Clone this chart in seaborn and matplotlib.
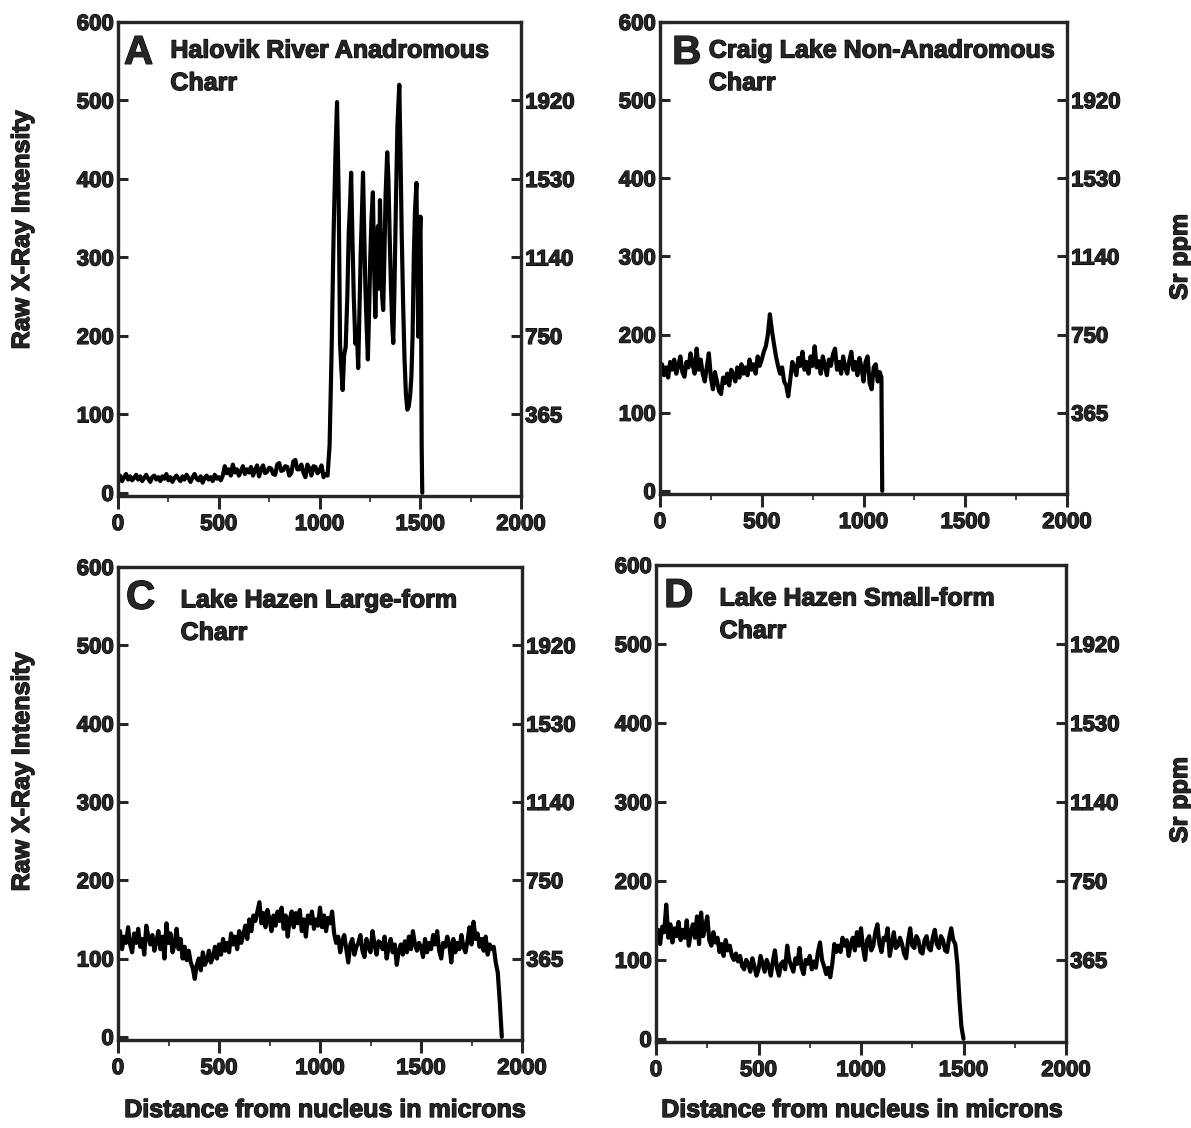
import numpy as np
import pandas as pd
import matplotlib
matplotlib.use("Agg")
import matplotlib.pyplot as plt
import matplotlib.patheffects as pe
from matplotlib.ticker import MultipleLocator
import seaborn as sns

# ---- data (distance in microns, raw x-ray intensity) ----
a_x = [0, 10, 20, 30, 40, 50, 60, 70, 80, 90, 100, 110, 120, 130, 140, 150, 160, 170, 180, 190,
       200, 210, 220, 230, 240, 250, 260, 270, 280, 290, 300, 310, 320, 330, 340, 350, 360, 370,
       380, 390, 400, 410, 420, 430, 440, 450, 460, 470, 480, 490, 500, 510, 520, 530, 540, 550,
       560, 570, 580, 590, 600, 610, 620, 630, 640, 650, 660, 670, 680, 690, 700, 710, 720, 730,
       740, 750, 760, 770, 780, 790, 800, 810, 820, 830, 840, 850, 860, 870, 880, 890, 900, 910,
       920, 930, 940, 950, 960, 970, 980, 990, 1000, 1010, 1020, 1030, 1040,
       1050, 1060, 1070, 1080, 1087, 1095, 1102, 1108, 1115, 1122, 1130, 1138, 1145,
       1152, 1157, 1163, 1170, 1178, 1185, 1192, 1198, 1205, 1211, 1216, 1222, 1228, 1234,
       1240, 1246, 1252, 1258, 1265, 1270, 1277, 1283, 1290, 1296, 1300, 1306, 1311, 1316,
       1322, 1328, 1336, 1342, 1348, 1355, 1361, 1366, 1372, 1380, 1387, 1396, 1402, 1408,
       1415, 1422, 1429, 1436, 1443, 1450, 1456, 1462, 1468, 1474, 1481, 1486, 1490, 1494,
       1498, 1501, 1504, 1507, 1510]
a_y = [18, 22, 15, 20, 24, 17, 21, 16, 19, 23, 17, 21, 15, 19, 23, 18, 14, 20, 22, 17,
       20, 15, 21, 18, 24, 16, 20, 14, 19, 22, 18, 15, 21, 17, 23, 19, 14, 20,
       24, 18, 16, 21, 13, 19, 22, 17, 20, 15, 23, 18, 20, 16, 22, 34, 25, 30,
       22, 36, 26, 30, 22, 28, 34, 24, 30, 26, 33, 22, 29, 35, 21, 30, 35, 25,
       27, 32, 31, 24, 23, 36, 38, 28, 29, 34, 33, 22, 25, 40, 42, 30, 30, 36,
       26, 20, 36, 31, 22, 34, 33, 25, 28, 35, 20, 24, 22,
       60, 180, 330, 440, 498, 380, 190, 160, 131, 175, 186, 250, 330,
       370, 408, 330, 250, 190, 210, 159, 230, 310, 360, 408, 330, 260, 212,
       170, 230, 300, 350, 383, 300, 224, 290, 340, 260, 373, 300, 250, 233,
       300, 380, 434, 400, 330, 260, 215, 191, 260, 380, 470, 520, 430, 330,
       240, 170, 125, 106, 110, 125, 148, 200, 300, 360, 395, 290, 199, 260,
       330, 352, 250, 60, 0]

b_x = [0, 10, 20, 30, 40, 50, 60, 70, 80, 90, 100, 110, 120, 130, 140, 150, 160, 170, 180, 190,
       200, 210, 220, 230, 240, 250, 260, 270, 280, 290, 300, 310, 320, 330, 340, 350, 360, 370,
       380, 390, 400, 410, 420, 430, 440, 450, 460, 470, 480, 490, 500, 510, 520, 530, 540, 550,
       560, 570, 580, 590, 600, 610, 620, 630, 640, 650, 660, 670, 680, 690, 700, 710, 720, 730,
       740, 750, 760, 770, 780, 790, 800, 810, 820, 830, 840, 850, 860, 870, 880, 890, 900, 910,
       920, 930, 940, 950, 960, 970, 980, 990, 1000, 1010, 1020, 1030, 1040, 1050, 1060, 1070,
       1080, 1088, 1092]
b_y = [150, 162, 148, 158, 145, 165, 155, 168, 150, 160, 172, 152, 146, 165, 158, 176, 162, 150,
       182, 155, 168, 150, 140, 158, 176, 145, 130, 152, 140, 128, 124, 145, 138, 150, 135, 155,
       148, 140, 158, 145, 162, 150, 158, 148, 168, 155, 162, 150, 172, 160, 168, 178, 185, 200,
       226, 205, 188, 172, 160, 150, 158, 140, 135, 121, 142, 165, 158, 148, 170, 160, 178, 155,
       165, 150, 172, 160, 185, 158, 166, 150, 172, 160, 148, 168, 160, 175, 182, 155, 165, 150,
       172, 158, 150, 166, 178, 155, 165, 148, 170, 158, 140, 165, 172, 138, 130, 158, 162, 140,
       152, 145, 0]

c_x = [0, 10, 20, 30, 40, 50, 60, 70, 80, 90, 100, 110, 120, 130, 140, 150, 160, 170, 180, 190,
       200, 210, 220, 230, 240, 250, 260, 270, 280, 290, 300, 310, 320, 330, 340, 350, 360, 370,
       380, 390, 400, 410, 420, 430, 440, 450, 460, 470, 480, 490, 500, 510, 520, 530, 540, 550,
       560, 570, 580, 590, 600, 610, 620, 630, 640, 650, 660, 670, 680, 690, 700, 710, 720, 730,
       740, 750, 760, 770, 780, 790, 800, 810, 820, 830, 840, 850, 860, 870, 880, 890, 900, 910,
       920, 930, 940, 950, 960, 970, 980, 990, 1000, 1010, 1020, 1030, 1040, 1050, 1060, 1070,
       1080, 1090, 1100, 1110, 1120, 1130, 1140, 1150, 1160, 1170, 1180, 1190, 1200, 1210, 1220,
       1230, 1240, 1250, 1260, 1270, 1280, 1290, 1300, 1310, 1320, 1330, 1340, 1350, 1360, 1370,
       1380, 1390, 1400, 1410, 1420, 1430, 1440, 1450, 1460, 1470, 1480, 1490, 1500, 1510, 1520,
       1530, 1540, 1550, 1560, 1570, 1580, 1590, 1600, 1610, 1620, 1630, 1640, 1650, 1660, 1670,
       1680, 1690, 1700, 1710, 1720, 1730, 1740, 1750, 1760, 1770, 1780, 1790, 1800, 1810, 1820,
       1830, 1840, 1850, 1860, 1870, 1880, 1890, 1900]
c_y = [125, 135, 112, 128, 120, 140, 118, 108, 132, 120, 138, 115, 125, 105, 142, 128, 118, 130,
       110, 122, 135, 112, 128, 100, 145, 120, 132, 108, 118, 138, 112, 125, 100, 115, 98, 110,
       95, 88, 74, 92, 100, 85, 108, 92, 98, 110, 95, 102, 115, 100, 118, 105, 125, 110, 120, 108,
       132, 118, 128, 112, 135, 120, 130, 142, 125, 150, 135, 155, 148, 160, 172, 145, 158, 140,
       162, 150, 135, 155, 142, 160, 148, 165, 138, 155, 128, 150, 160, 140, 158, 145, 162, 135,
       150, 128, 155, 145, 160, 138, 150, 142, 165, 140, 155, 135, 152, 145, 160, 132, 120, 128,
       108, 122, 130, 112, 95, 118, 125, 105, 115, 120, 130, 110, 102, 125, 115, 108, 135, 118,
       105, 122, 120, 112, 128, 100, 115, 125, 108, 118, 92, 110, 118, 105, 122, 108, 128, 112,
       135, 118, 110, 120, 115, 102, 125, 108, 120, 112, 130, 118, 135, 110, 100, 120, 115, 128,
       118, 95, 125, 108, 120, 112, 130, 115, 108, 122, 140, 118, 147, 125, 132, 115, 125, 110,
       128, 105, 118, 112, 115, 95, 82, 45, 0]

d_x = [0, 10, 20, 30, 40, 50, 60, 70, 80, 90, 100, 110, 120, 130, 140, 150, 160, 170, 180, 190,
       200, 210, 220, 230, 240, 250, 260, 270, 280, 290, 300, 310, 320, 330, 340, 350, 360, 370,
       380, 390, 400, 410, 420, 430, 440, 450, 460, 470, 480, 490, 500, 510, 520, 530, 540, 550,
       560, 570, 580, 590, 600, 610, 620, 630, 640, 650, 660, 670, 680, 690, 700, 710, 720, 730,
       740, 750, 760, 770, 780, 790, 800, 810, 820, 830, 840, 850, 860, 870, 880, 890, 900, 910,
       920, 930, 940, 950, 960, 970, 980, 990, 1000, 1010, 1020, 1030, 1040, 1050, 1060, 1070,
       1080, 1090, 1100, 1110, 1120, 1130, 1140, 1150, 1160, 1170, 1180, 1190, 1200, 1210, 1220,
       1230, 1240, 1250, 1260, 1270, 1280, 1290, 1300, 1310, 1320, 1330, 1340, 1350, 1360, 1370,
       1380, 1390, 1400, 1410, 1420, 1430, 1440, 1450, 1460, 1470, 1480, 1490, 1500]
d_y = [125, 138, 120, 142, 135, 170, 128, 145, 122, 140, 130, 148, 125, 138, 128, 150, 118, 135,
       145, 128, 155, 120, 160, 130, 142, 155, 125, 118, 135, 122, 128, 110, 120, 105, 125, 112,
       118, 105, 100, 108, 98, 105, 92, 88, 100, 95, 85, 102, 92, 80, 88, 105, 95, 85, 100, 92,
       80, 98, 112, 90, 80, 95, 98, 88, 118, 100, 92, 85, 102, 95, 115, 90, 82, 100, 95, 105,
       88, 98, 90, 110, 122, 100, 92, 82, 90, 78, 95, 120, 110, 118, 110, 128, 118, 125, 105, 120,
       128, 112, 135, 118, 140, 115, 100, 125, 130, 112, 118, 135, 145, 120, 110, 128, 125, 140,
       105, 120, 135, 115, 118, 128, 120, 108, 102, 125, 140, 118, 115, 130, 125, 110, 108, 125,
       130, 115, 112, 128, 138, 120, 115, 130, 125, 112, 110, 128, 140, 125, 120, 95, 50, 15, 0]

panel_letters = ["A", "B", "C", "D"]
panel_titles = ["Halovik River Anadromous\nCharr", "Craig Lake Non-Anadromous\nCharr",
                "Lake Hazen Large-form\nCharr", "Lake Hazen Small-form\nCharr"]
left_ticks = [0, 100, 200, 300, 400, 500, 600]
right_ticks = [100, 200, 300, 400, 500]
right_labels = ["365", "750", "1140", "1530", "1920"]
x_ticks = [0, 500, 1000, 1500, 2000]

sns.set_style("ticks")
plt.rcParams["font.family"] = ["Liberation Sans", "DejaVu Sans"]
plt.rcParams["font.weight"] = "bold"

bold = [pe.withStroke(linewidth=0.9, foreground="black")]

fig = plt.figure(figsize=(11.91, 11.28), dpi=100)
W, H = 1191, 1128
# axes boxes in pixels: left, top, right, bottom
boxes = [(118, 22, 521, 496), (660, 22, 1067, 494),
         (118, 567, 522, 1040), (656, 565, 1066, 1042)]
traces = [(a_x, a_y), (b_x, b_y), (c_x, c_y), (d_x, d_y)]
letter_pos = [(0.015, 0.975), (0.03, 0.975), (0.02, 0.975), (0.02, 0.975)]
title_pos = [(0.13, 0.965), (0.12, 0.965), (0.155, 0.955), (0.155, 0.955)]

for i, (l, t, r, b) in enumerate(boxes):
    ax = fig.add_axes([l / W, 1 - b / H, (r - l) / W, (b - t) / H])
    df = pd.DataFrame({"x": traces[i][0], "y": traces[i][1]})
    sns.lineplot(data=df, x="x", y="y", ax=ax, color="black", lw=3.0, sort=False,
                 estimator=None)
    ax.set_xlim(0, 2000)
    ax.set_ylim(-4, 600)
    ax.set_xlabel("")
    ax.set_ylabel("")
    ax.set_xticks(x_ticks)
    ax.xaxis.set_minor_locator(MultipleLocator(250))
    ax.set_yticks(left_ticks)
    ax.tick_params(axis="x", direction="out", length=9, width=2.2, labelsize=16, pad=4)
    ax.tick_params(axis="x", which="minor", direction="out", length=4, width=1.2)
    ax.tick_params(axis="y", direction="in", length=7, width=2.2, labelsize=16, pad=3)
    for s in ax.spines.values():
        s.set_linewidth(2.3)
        s.set_visible(True)
    for lab in ax.get_xticklabels() + ax.get_yticklabels():
        lab.set_fontweight("bold")
        lab.set_path_effects(bold)

    ax2 = ax.twinx()
    ax2.set_ylim(-4, 600)
    ax2.set_yticks(right_ticks)
    ax2.set_yticklabels(right_labels)
    ax2.tick_params(axis="y", direction="in", length=7, width=2.2, labelsize=16, pad=3)
    for lab in ax2.get_yticklabels():
        lab.set_fontweight("bold")
        lab.set_path_effects(bold)
    for s in ax2.spines.values():
        s.set_linewidth(2.3)

    ax.text(letter_pos[i][0], letter_pos[i][1], panel_letters[i], transform=ax.transAxes,
            fontsize=29, fontweight="bold", va="top", ha="left", path_effects=bold)
    ax.text(title_pos[i][0], title_pos[i][1], panel_titles[i], transform=ax.transAxes,
            fontsize=18, fontweight="bold", va="top", ha="left", linespacing=1.45,
            path_effects=bold)

# shared axis titles
for yc in [230, 772]:
    fig.text(22 / W, 1 - yc / H, "Raw X-Ray Intensity", rotation=90, fontsize=18,
             fontweight="bold", ha="center", va="center", path_effects=bold)
for yc in [257, 800]:
    fig.text(1180 / W, 1 - yc / H, "Sr ppm", rotation=90, fontsize=18,
             fontweight="bold", ha="center", va="center", path_effects=bold)
for xc in [325, 862]:
    fig.text(xc / W, 1 - 1110 / H, "Distance from nucleus in microns", fontsize=18,
             fontweight="bold", ha="center", va="center", path_effects=bold)

fig.savefig("out.png", dpi=100)
